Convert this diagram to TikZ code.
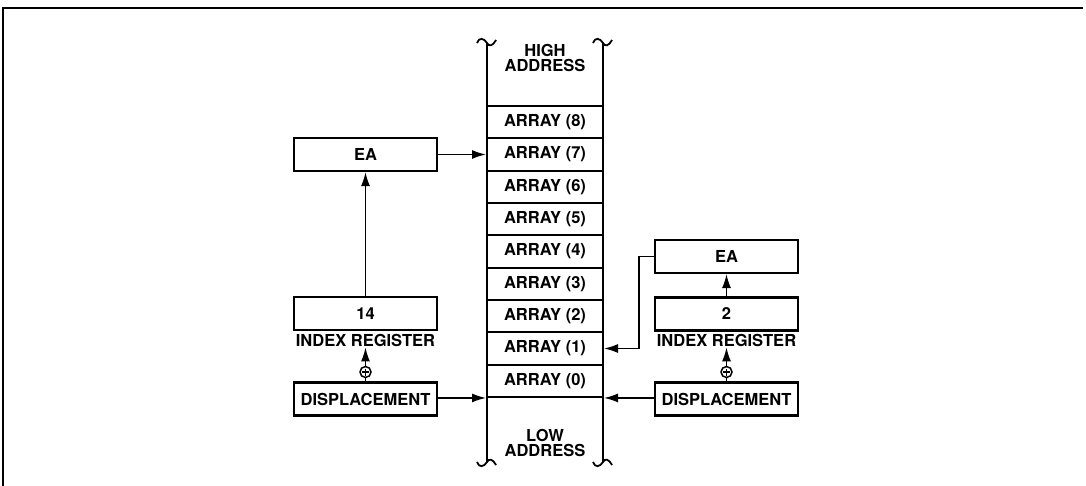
\documentclass[tikz,border=0pt]{standalone}
\usepackage{fontspec}
\setmainfont{TeX Gyre Heros}
\usetikzlibrary{arrows.meta}

\begin{document}
\begin{tikzpicture}[x=1pt, y=-1pt, >={Latex[length=14pt,width=9pt]},
        every node/.style={font=\fontsize{16.5}{15.5}\selectfont\bfseries}]
        \tikzstyle{boxStyle} = [draw=black, line width=2.2, minimum width=143, minimum height=33, inner sep=0]
        \tikzstyle{cellStyle} = [draw=black, line width=2, minimum width=116, minimum height=32.33, inner sep=0]
        \tikzstyle{labelStyle} = [inner sep=1]
        \tikzstyle{plusStyle} = [circle, draw=black, line width=1.5, minimum size=11, inner sep=0,
            path picture={\draw[line width=1.3] (path picture bounding box.center) ++(-3.5,0) -- ++(7,0)
            (path picture bounding box.center) ++(0,-3.5) -- ++(0,7);}]
        \tikzstyle{arrowEdge} = [draw=black, line width=1.5, ->]
        \tikzstyle{lineEdge} = [draw=black, line width=1.5]
        \tikzstyle{sideStyle} = [draw=black, line width=2.3]
        \useasboundingbox (0,0) rectangle (1086,486);
        % frame
        \draw[line width=1.8] (3,486) -- (3,8) -- (1083,8);
        % memory column
        \node[cellStyle] (a8) at (545,122.2) {ARRAY (8)};
        \node[cellStyle] (a7) at (545,154.5) {ARRAY (7)};
        \node[cellStyle] (a6) at (545,186.8) {ARRAY (6)};
        \node[cellStyle] (a5) at (545,219.2) {ARRAY (5)};
        \node[cellStyle] (a4) at (545,251.5) {ARRAY (4)};
        \node[cellStyle] (a3) at (545,283.8) {ARRAY (3)};
        \node[cellStyle] (a2) at (545,316.2) {ARRAY (2)};
        \node[cellStyle] (a1) at (545,348.5) {ARRAY (1)};
        \node[cellStyle] (a0) at (545,380.8) {ARRAY (0)};
        \node[align=center] (high) at (545,58) {HIGH\\ADDRESS};
        \node[align=center] (low) at (545,443) {LOW\\ADDRESS};
        \draw[sideStyle] (487,43) -- (487,462);
        \draw[sideStyle] (603,43) -- (603,462);
        \draw[line width=1.8, shift={(487,43)}] (-10,0) .. controls (-8,-6) and (-3,-5) .. (0,0) .. controls (2,4) and (6,3) .. (9,-3);
        \draw[line width=1.8, shift={(603,43)}] (-10,0) .. controls (-8,-6) and (-3,-5) .. (0,0) .. controls (2,4) and (6,3) .. (9,-3);
        \draw[line width=1.8, shift={(487,462)}, yscale=-1] (-10,0) .. controls (-8,-6) and (-3,-5) .. (0,0) .. controls (2,4) and (6,3) .. (9,-3);
        \draw[line width=1.8, shift={(603,462)}, yscale=-1] (-10,0) .. controls (-8,-6) and (-3,-5) .. (0,0) .. controls (2,4) and (6,3) .. (9,-3);
        % left side
        \node[boxStyle] (EA1) at (365.5,154.5) {EA};
        \node[boxStyle] (IR1) at (365.5,313.5) {14};
        \node[labelStyle] (IRtext1) at (365.5,340) {INDEX REGISTER};
        \node[plusStyle] (P1) at (365.5,372) {};
        \node[boxStyle] (D1) at (365.5,399) {DISPLACEMENT};
        % right side
        \node[boxStyle] (EA2) at (726.5,256.5) {EA};
        \node[boxStyle] (IR2) at (726.5,314) {2};
        \node[labelStyle] (IRtext2) at (726.5,340) {INDEX REGISTER};
        \node[plusStyle] (P2) at (726.5,372) {};
        \node[boxStyle] (D2) at (726.5,399) {DISPLACEMENT};
        % connections
        \path[arrowEdge] (EA1) edge (a7);
        \path[arrowEdge] (IR1) edge (EA1);
        \path[lineEdge] (D1) edge (P1);
        \path[arrowEdge] (P1) edge (IRtext1);
        \draw[arrowEdge] (a0.south west -| D1.east) -- (a0.south west);
        \path[arrowEdge] (IR2) edge (EA2);
        \path[lineEdge] (D2) edge (P2);
        \path[arrowEdge] (P2) edge (IRtext2);
        \draw[arrowEdge] (a0.south east -| D2.west) -- (a0.south east);
        \draw[arrowEdge] (EA2.west) -- ++(-15,0) |- (a1.east);
    \end{tikzpicture}
\end{document}
